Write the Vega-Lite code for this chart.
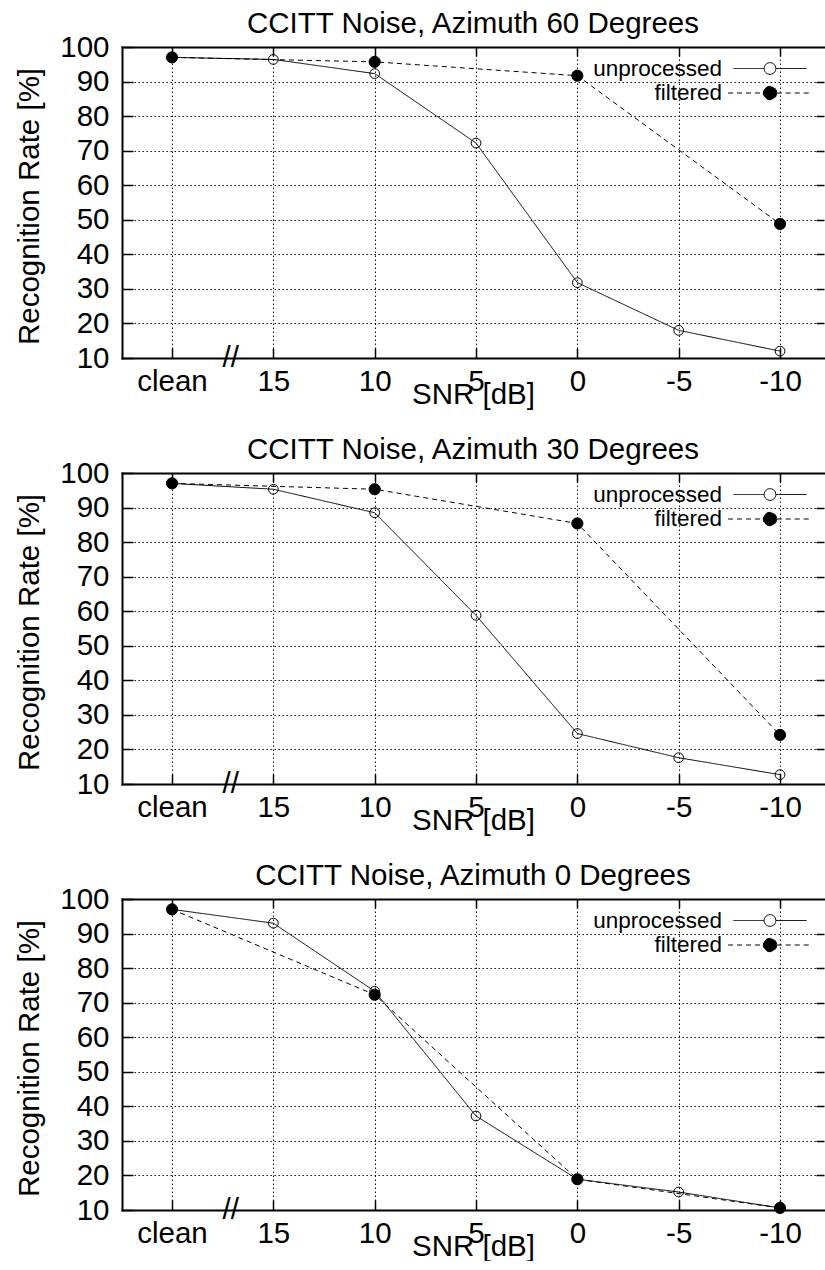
{
  "$schema": "https://vega.github.io/schema/vega-lite/v6.json",
  "background": "white",
  "padding": {"left": 14, "top": 8, "right": 0, "bottom": 0},
  "config": {
    "font": "Liberation Sans",
    "view": {"stroke": null},
    "axis": {
      "domainColor": "black", "domainWidth": 2, "domainCap": "square",
      "tickColor": "black", "tickWidth": 1.5,
      "gridColor": "black", "gridDash": [1.5, 2.5], "gridWidth": 1, "gridOpacity": 0.9,
      "labelFont": "Liberation Sans", "labelFontSize": 29.5, "labelColor": "black",
      "titleFont": "Liberation Sans", "titleFontSize": 29.5, "titleFontWeight": "normal", "titleColor": "black",
      "labelFlush": false, "labelOverlap": false
    },
    "title": {"font": "Liberation Sans", "fontSize": 29.5, "fontWeight": "normal", "color": "black", "baseline": "alphabetic", "offset": -7, "frame": "group", "anchor": "middle"},
    "legend": {"labelFont": "Liberation Sans", "labelFontSize": 22.5, "labelColor": "black"}
  },
  "datasets": {
    "rates": [
      {"panel": 60, "series": "unprocessed", "pos": 0, "snr": "clean", "rate": 97.0},
      {"panel": 60, "series": "unprocessed", "pos": 1, "snr": "15", "rate": 96.4},
      {"panel": 60, "series": "unprocessed", "pos": 2, "snr": "10", "rate": 92.3},
      {"panel": 60, "series": "unprocessed", "pos": 3, "snr": "5", "rate": 72.2},
      {"panel": 60, "series": "unprocessed", "pos": 4, "snr": "0", "rate": 31.8},
      {"panel": 60, "series": "unprocessed", "pos": 5, "snr": "-5", "rate": 18.0},
      {"panel": 60, "series": "unprocessed", "pos": 6, "snr": "-10", "rate": 12.0},
      {"panel": 60, "series": "filtered", "pos": 0, "snr": "clean", "rate": 97.0},
      {"panel": 60, "series": "filtered", "pos": 2, "snr": "10", "rate": 95.7},
      {"panel": 60, "series": "filtered", "pos": 4, "snr": "0", "rate": 91.7},
      {"panel": 60, "series": "filtered", "pos": 6, "snr": "-10", "rate": 48.8},
      {"panel": 30, "series": "unprocessed", "pos": 0, "snr": "clean", "rate": 97.0},
      {"panel": 30, "series": "unprocessed", "pos": 1, "snr": "15", "rate": 95.3},
      {"panel": 30, "series": "unprocessed", "pos": 2, "snr": "10", "rate": 88.5},
      {"panel": 30, "series": "unprocessed", "pos": 3, "snr": "5", "rate": 58.8},
      {"panel": 30, "series": "unprocessed", "pos": 4, "snr": "0", "rate": 24.6},
      {"panel": 30, "series": "unprocessed", "pos": 5, "snr": "-5", "rate": 17.6},
      {"panel": 30, "series": "unprocessed", "pos": 6, "snr": "-10", "rate": 12.7},
      {"panel": 30, "series": "filtered", "pos": 0, "snr": "clean", "rate": 97.0},
      {"panel": 30, "series": "filtered", "pos": 2, "snr": "10", "rate": 95.3},
      {"panel": 30, "series": "filtered", "pos": 4, "snr": "0", "rate": 85.4},
      {"panel": 30, "series": "filtered", "pos": 6, "snr": "-10", "rate": 24.2},
      {"panel": 0, "series": "unprocessed", "pos": 0, "snr": "clean", "rate": 97.0},
      {"panel": 0, "series": "unprocessed", "pos": 1, "snr": "15", "rate": 93.0},
      {"panel": 0, "series": "unprocessed", "pos": 2, "snr": "10", "rate": 73.3},
      {"panel": 0, "series": "unprocessed", "pos": 3, "snr": "5", "rate": 37.2},
      {"panel": 0, "series": "unprocessed", "pos": 4, "snr": "0", "rate": 18.9},
      {"panel": 0, "series": "unprocessed", "pos": 5, "snr": "-5", "rate": 15.2},
      {"panel": 0, "series": "unprocessed", "pos": 6, "snr": "-10", "rate": 10.6},
      {"panel": 0, "series": "filtered", "pos": 0, "snr": "clean", "rate": 97.0},
      {"panel": 0, "series": "filtered", "pos": 2, "snr": "10", "rate": 72.3},
      {"panel": 0, "series": "filtered", "pos": 4, "snr": "0", "rate": 18.9},
      {"panel": 0, "series": "filtered", "pos": 6, "snr": "-10", "rate": 10.6}
    ],
    "breakmark": [{"pos": 0.58, "rate": 10, "label": "//"}]
  },
  "bounds": "flush",
  "spacing": 115,
  "resolve": {"scale": {"fill": "independent", "strokeDash": "independent", "size": "independent"}},
  "vconcat": [
    {
      "title": {"text": "CCITT Noise, Azimuth 60 Degrees"},
      "width": 702, "height": 311,
      "data": {"name": "rates"},
      "transform": [{"filter": "datum.panel == 60"}],
      "resolve": {"axis": {"x": "independent", "y": "independent"}},
      "layer": [
        {
          "mark": {"type": "line", "color": "black", "strokeWidth": 1, "clip": false},
          "encoding": {
            "x": {"field": "pos", "type": "quantitative", "scale": {"domain": [-0.4936, 6.434], "nice": false, "zero": false},
              "axis": {"orient": "bottom", "values": [0,1,2,3,4,5,6], "labelExpr": "['clean','15','10','5','0','-5','-10'][datum.value]", "grid": true, "tickSize": -10, "labelPadding": 19.5, "title": "SNR [dB]", "titleY": 45.5, "titleBaseline": "alphabetic"}},
            "y": {"field": "rate", "type": "quantitative", "scale": {"domain": [10, 100], "nice": false, "zero": false},
              "axis": {"orient": "left", "values": [10,20,30,40,50,60,70,80,90,100], "grid": true, "tickSize": -11, "labelPadding": 24, "title": "Recognition Rate [%]", "titleX": -83.7, "titleY": 159, "titleAngle": -90, "titleBaseline": "alphabetic", "titleAlign": "center"}},
            "strokeDash": {"field": "series", "type": "nominal", "scale": {"domain": ["unprocessed", "filtered"], "range": [[1, 0], [5, 4]]},
              "legend": {"title": null, "orient": "none", "legendX": 636.75, "legendY": 10.25, "labelAlign": "right", "labelOffset": -59.25, "rowPadding": 1.5, "symbolType": "M-7.5,0L-1.2,0M1.2,0L7.5,0M1.2,0A1.2,1.2,0,1,1,-1.2,0A1.2,1.2,0,1,1,1.2,0Z", "symbolSize": 150, "symbolStrokeWidth": 1, "symbolStrokeColor": "black", "symbolOpacity": 1, "encode": {"symbols": {"update": {"size": {"value": 150}, "stroke": {"value": "black"}, "strokeWidth": {"value": 1}}}}}}
          }
        },
        {
          "mark": {"type": "point", "shape": "circle", "stroke": "black", "strokeWidth": 1, "opacity": 1, "clip": false},
          "encoding": {
            "x": {"field": "pos", "type": "quantitative", "scale": {"domain": [-0.4936, 6.434], "nice": false, "zero": false},
              "axis": {"orient": "top", "values": [0,1,2,3,4,5,6], "labels": false, "grid": false, "tickSize": -9, "title": null}},
            "y": {"field": "rate", "type": "quantitative", "scale": {"domain": [10, 100], "nice": false, "zero": false},
              "axis": {"orient": "right", "values": [20,30,40,50,60,70,80,90], "labels": false, "grid": false, "tickSize": -8, "title": null, "domain": false}},
            "fill": {"field": "series", "type": "nominal", "scale": {"domain": ["unprocessed", "filtered"], "range": ["transparent", "black"]},
              "legend": {"title": null, "orient": "none", "legendX": 636.75, "legendY": 10.25, "labelAlign": "right", "labelOffset": -59.25, "rowPadding": 1.5, "symbolType": "M-7.5,0L-1.2,0M1.2,0L7.5,0M1.2,0A1.2,1.2,0,1,1,-1.2,0A1.2,1.2,0,1,1,1.2,0Z", "symbolSize": 150, "symbolStrokeWidth": 1, "symbolStrokeColor": "black", "symbolOpacity": 1, "encode": {"symbols": {"update": {"size": {"value": 150}, "stroke": {"value": "black"}, "strokeWidth": {"value": 1}}}}}},
            "size": {"field": "series", "type": "nominal", "scale": {"domain": ["unprocessed", "filtered"], "range": [95, 125]}, "legend": null}
          }
        },
        {
          "data": {"name": "breakmark"},
          "mark": {"type": "text", "fontSize": 29.5, "baseline": "middle", "align": "center", "color": "black", "clip": false},
          "encoding": {
            "x": {"field": "pos", "type": "quantitative", "scale": {"domain": [-0.4936, 6.434], "nice": false, "zero": false}, "axis": null},
            "y": {"field": "rate", "type": "quantitative", "scale": {"domain": [10, 100], "nice": false, "zero": false}, "axis": null},
            "text": {"field": "label"}
          }
        }
      ]
    },
    {
      "title": {"text": "CCITT Noise, Azimuth 30 Degrees"},
      "width": 702, "height": 311,
      "data": {"name": "rates"},
      "transform": [{"filter": "datum.panel == 30"}],
      "resolve": {"axis": {"x": "independent", "y": "independent"}},
      "layer": [
        {
          "mark": {"type": "line", "color": "black", "strokeWidth": 1, "clip": false},
          "encoding": {
            "x": {"field": "pos", "type": "quantitative", "scale": {"domain": [-0.4936, 6.434], "nice": false, "zero": false},
              "axis": {"orient": "bottom", "values": [0,1,2,3,4,5,6], "labelExpr": "['clean','15','10','5','0','-5','-10'][datum.value]", "grid": true, "tickSize": -10, "labelPadding": 19.5, "title": "SNR [dB]", "titleY": 45.5, "titleBaseline": "alphabetic"}},
            "y": {"field": "rate", "type": "quantitative", "scale": {"domain": [10, 100], "nice": false, "zero": false},
              "axis": {"orient": "left", "values": [10,20,30,40,50,60,70,80,90,100], "grid": true, "tickSize": -11, "labelPadding": 24, "title": "Recognition Rate [%]", "titleX": -83.7, "titleY": 159, "titleAngle": -90, "titleBaseline": "alphabetic", "titleAlign": "center"}},
            "strokeDash": {"field": "series", "type": "nominal", "scale": {"domain": ["unprocessed", "filtered"], "range": [[1, 0], [5, 4]]},
              "legend": {"title": null, "orient": "none", "legendX": 636.75, "legendY": 10.25, "labelAlign": "right", "labelOffset": -59.25, "rowPadding": 1.5, "symbolType": "M-7.5,0L-1.2,0M1.2,0L7.5,0M1.2,0A1.2,1.2,0,1,1,-1.2,0A1.2,1.2,0,1,1,1.2,0Z", "symbolSize": 150, "symbolStrokeWidth": 1, "symbolStrokeColor": "black", "symbolOpacity": 1, "encode": {"symbols": {"update": {"size": {"value": 150}, "stroke": {"value": "black"}, "strokeWidth": {"value": 1}}}}}}
          }
        },
        {
          "mark": {"type": "point", "shape": "circle", "stroke": "black", "strokeWidth": 1, "opacity": 1, "clip": false},
          "encoding": {
            "x": {"field": "pos", "type": "quantitative", "scale": {"domain": [-0.4936, 6.434], "nice": false, "zero": false},
              "axis": {"orient": "top", "values": [0,1,2,3,4,5,6], "labels": false, "grid": false, "tickSize": -9, "title": null}},
            "y": {"field": "rate", "type": "quantitative", "scale": {"domain": [10, 100], "nice": false, "zero": false},
              "axis": {"orient": "right", "values": [20,30,40,50,60,70,80,90], "labels": false, "grid": false, "tickSize": -8, "title": null, "domain": false}},
            "fill": {"field": "series", "type": "nominal", "scale": {"domain": ["unprocessed", "filtered"], "range": ["transparent", "black"]},
              "legend": {"title": null, "orient": "none", "legendX": 636.75, "legendY": 10.25, "labelAlign": "right", "labelOffset": -59.25, "rowPadding": 1.5, "symbolType": "M-7.5,0L-1.2,0M1.2,0L7.5,0M1.2,0A1.2,1.2,0,1,1,-1.2,0A1.2,1.2,0,1,1,1.2,0Z", "symbolSize": 150, "symbolStrokeWidth": 1, "symbolStrokeColor": "black", "symbolOpacity": 1, "encode": {"symbols": {"update": {"size": {"value": 150}, "stroke": {"value": "black"}, "strokeWidth": {"value": 1}}}}}},
            "size": {"field": "series", "type": "nominal", "scale": {"domain": ["unprocessed", "filtered"], "range": [95, 125]}, "legend": null}
          }
        },
        {
          "data": {"name": "breakmark"},
          "mark": {"type": "text", "fontSize": 29.5, "baseline": "middle", "align": "center", "color": "black", "clip": false},
          "encoding": {
            "x": {"field": "pos", "type": "quantitative", "scale": {"domain": [-0.4936, 6.434], "nice": false, "zero": false}, "axis": null},
            "y": {"field": "rate", "type": "quantitative", "scale": {"domain": [10, 100], "nice": false, "zero": false}, "axis": null},
            "text": {"field": "label"}
          }
        }
      ]
    },
    {
      "title": {"text": "CCITT Noise, Azimuth 0 Degrees"},
      "width": 702, "height": 311,
      "data": {"name": "rates"},
      "transform": [{"filter": "datum.panel == 0"}],
      "resolve": {"axis": {"x": "independent", "y": "independent"}},
      "layer": [
        {
          "mark": {"type": "line", "color": "black", "strokeWidth": 1, "clip": false},
          "encoding": {
            "x": {"field": "pos", "type": "quantitative", "scale": {"domain": [-0.4936, 6.434], "nice": false, "zero": false},
              "axis": {"orient": "bottom", "values": [0,1,2,3,4,5,6], "labelExpr": "['clean','15','10','5','0','-5','-10'][datum.value]", "grid": true, "tickSize": -10, "labelPadding": 19.5, "title": "SNR [dB]", "titleY": 45.5, "titleBaseline": "alphabetic"}},
            "y": {"field": "rate", "type": "quantitative", "scale": {"domain": [10, 100], "nice": false, "zero": false},
              "axis": {"orient": "left", "values": [10,20,30,40,50,60,70,80,90,100], "grid": true, "tickSize": -11, "labelPadding": 24, "title": "Recognition Rate [%]", "titleX": -83.7, "titleY": 159, "titleAngle": -90, "titleBaseline": "alphabetic", "titleAlign": "center"}},
            "strokeDash": {"field": "series", "type": "nominal", "scale": {"domain": ["unprocessed", "filtered"], "range": [[1, 0], [5, 4]]},
              "legend": {"title": null, "orient": "none", "legendX": 636.75, "legendY": 10.25, "labelAlign": "right", "labelOffset": -59.25, "rowPadding": 1.5, "symbolType": "M-7.5,0L-1.2,0M1.2,0L7.5,0M1.2,0A1.2,1.2,0,1,1,-1.2,0A1.2,1.2,0,1,1,1.2,0Z", "symbolSize": 150, "symbolStrokeWidth": 1, "symbolStrokeColor": "black", "symbolOpacity": 1, "encode": {"symbols": {"update": {"size": {"value": 150}, "stroke": {"value": "black"}, "strokeWidth": {"value": 1}}}}}}
          }
        },
        {
          "mark": {"type": "point", "shape": "circle", "stroke": "black", "strokeWidth": 1, "opacity": 1, "clip": false},
          "encoding": {
            "x": {"field": "pos", "type": "quantitative", "scale": {"domain": [-0.4936, 6.434], "nice": false, "zero": false},
              "axis": {"orient": "top", "values": [0,1,2,3,4,5,6], "labels": false, "grid": false, "tickSize": -9, "title": null}},
            "y": {"field": "rate", "type": "quantitative", "scale": {"domain": [10, 100], "nice": false, "zero": false},
              "axis": {"orient": "right", "values": [20,30,40,50,60,70,80,90], "labels": false, "grid": false, "tickSize": -8, "title": null, "domain": false}},
            "fill": {"field": "series", "type": "nominal", "scale": {"domain": ["unprocessed", "filtered"], "range": ["transparent", "black"]},
              "legend": {"title": null, "orient": "none", "legendX": 636.75, "legendY": 10.25, "labelAlign": "right", "labelOffset": -59.25, "rowPadding": 1.5, "symbolType": "M-7.5,0L-1.2,0M1.2,0L7.5,0M1.2,0A1.2,1.2,0,1,1,-1.2,0A1.2,1.2,0,1,1,1.2,0Z", "symbolSize": 150, "symbolStrokeWidth": 1, "symbolStrokeColor": "black", "symbolOpacity": 1, "encode": {"symbols": {"update": {"size": {"value": 150}, "stroke": {"value": "black"}, "strokeWidth": {"value": 1}}}}}},
            "size": {"field": "series", "type": "nominal", "scale": {"domain": ["unprocessed", "filtered"], "range": [95, 125]}, "legend": null}
          }
        },
        {
          "data": {"name": "breakmark"},
          "mark": {"type": "text", "fontSize": 29.5, "baseline": "middle", "align": "center", "color": "black", "clip": false},
          "encoding": {
            "x": {"field": "pos", "type": "quantitative", "scale": {"domain": [-0.4936, 6.434], "nice": false, "zero": false}, "axis": null},
            "y": {"field": "rate", "type": "quantitative", "scale": {"domain": [10, 100], "nice": false, "zero": false}, "axis": null},
            "text": {"field": "label"}
          }
        }
      ]
    }
  ]
}
